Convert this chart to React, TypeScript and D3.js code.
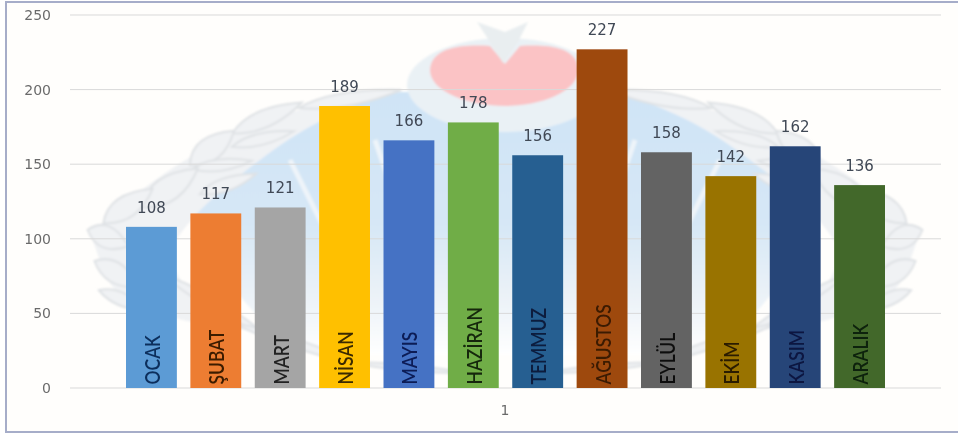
import React from "react";
import * as d3 from "d3";

const months = ["OCAK", "ŞUBAT", "MART", "NİSAN", "MAYIS", "HAZİRAN", "TEMMUZ", "AĞUSTOS", "EYLÜL", "EKİM", "KASIM", "ARALIK"];
const values = [108, 117, 121, 189, 166, 178, 156, 227, 158, 142, 162, 136];
const barColors = ["#5b9bd5", "#ed7d31", "#a5a5a5", "#ffc000", "#4472c4", "#70ad47", "#255e91", "#9e480e", "#636363", "#997300", "#264478", "#43682b"];
const labelColors = ["#0c2f5c", "#3a1a00", "#222222", "#3a2a00", "#0a1a55", "#13280a", "#0c1c3c", "#3a1a05", "#111111", "#2a1c00", "#0a1540", "#0c2008"];
const yTicks = [0, 50, 100, 150, 200, 250];
const xCategory = "1";

const W = 958;
const H = 437;
const y = d3.scaleLinear().domain([0, 250]).range([388, 15]);
const x = d3.scaleBand<string>().domain(months).range([126, 885]).paddingInner(0.21).paddingOuter(0);

const leaf = (cx: number, cy: number, rot: number, rx: number, ry: number, k: number) => (
  <path
    key={k}
    transform={`translate(${cx},${cy}) rotate(${rot})`}
    d={`M${-rx},0 Q${-rx * 0.3},${-ry * 1.5} ${rx},0 Q${-rx * 0.1},${ry * 1.4} ${-rx},0Z`}
    fill="#f0f2f4"
    stroke="#dfe2e5"
    strokeWidth={2}
  />
);

function Wing() {
  const leaves: [number, number, number, number, number][] = [
    [350, 99, -10, 52, 9],
    [267, 118, -24, 38, 12],
    [263, 139, -14, 32, 8],
    [212, 148, -38, 28, 16],
    [222, 165, -8, 30, 8],
    [228, 184, -20, 30, 9],
    [170, 188, -35, 34, 17],
    [128, 206, -35, 30, 15],
    [108, 238, 22, 22, 15],
    [117, 274, 30, 26, 14],
    [123, 300, 22, 26, 9],
    [215, 305, 30, 60, 7],
    [300, 345, 18, 70, 6],
    [410, 368, 5, 60, 4],
  ];
  return (
    <g>
      <path
        d="M92,238 C130,190 240,105 400,90 C330,112 300,130 260,160 C220,190 190,215 170,250 C175,285 200,310 250,330 C190,325 120,310 105,275Z"
        fill="#f0f2f4"
      />
      {leaves.map((l, i) => leaf(l[0], l[1], l[2], l[3], l[4], i))}
    </g>
  );
}

function Emblem() {
  const cx = 505;
  return (
    <g filter="url(#soft)">
      <path
        d="M190,212 C225,165 290,112 400,92 L610,92 C720,112 785,165 820,212 C790,270 760,330 690,355 L320,355 C250,330 220,270 190,212Z"
        fill="url(#dome)"
      />
      <path d="M290,160 L340,260 M375,140 L430,300 M720,160 L670,260 M635,140 L580,300" stroke="#eef4f9" strokeWidth={5} fill="none" />
      <ellipse cx={cx} cy={85} rx={98} ry={47} fill="#eaf1f5" />
      <Wing />
      <g transform={`translate(${2 * cx},0) scale(-1,1)`}>
        <Wing />
      </g>
      <path d="M430,70 C432,44 470,45 490,46 L505,64 L520,46 C540,45 578,44 578,70 C578,92 540,106 505,106 C470,106 430,92 430,70Z" fill="#fbc3c5" />
      <path d="M477,22 L505,32 L528,22 L518,42 L503,63 L490,42Z" fill="#e9eef0" />
    </g>
  );
}

export default function App() {
  return (
    <svg
      width={W}
      height={H}
      viewBox={`0 0 ${W} ${H}`}
      style={{ position: "absolute", left: 0, top: 0, display: "block", background: "#ffffff" }}
    >
      <defs>
        <linearGradient id="dome" x1="0" y1="0" x2="0" y2="1">
          <stop offset="0" stopColor="#cfe4f6" />
          <stop offset="0.5" stopColor="#d6e7f6" />
          <stop offset="0.8" stopColor="#edf3f8" />
          <stop offset="1" stopColor="#ffffff" />
        </linearGradient>
        <filter id="soft" x="-5%" y="-5%" width="110%" height="110%">
          <feGaussianBlur stdDeviation="1.2" />
        </filter>
        <filter id="fine" x="-2%" y="-2%" width="104%" height="104%">
          <feGaussianBlur stdDeviation="0.4" />
        </filter>
      </defs>
      <rect x={6} y={2} width={960} height={430} fill="#fffefc" stroke="#a6adc9" strokeWidth={2} />
      <Emblem />
      <g filter="url(#fine)">
        {yTicks.map((t) => (
          <g key={t}>
            <line x1={70} x2={941} y1={y(t)} y2={y(t)} stroke="#d9d9d9" strokeWidth={1} />
            <text x={51} y={y(t) + 5} textAnchor="end" fontFamily="DejaVu Sans" fontSize={14} fill="#6b6b6b">
              {t}
            </text>
          </g>
        ))}
        {months.map((m, i) => {
          const bx = x(m)!;
          const cx = bx + x.bandwidth() / 2;
          return (
            <g key={m}>
              <rect x={bx} y={y(values[i])} width={x.bandwidth()} height={y(0) - y(values[i])} fill={barColors[i]} />
              <text x={cx} y={y(values[i]) - 14} textAnchor="middle" fontFamily="DejaVu Sans" fontWeight={500} fontSize={15} fill="#404855">
                {values[i]}
              </text>
              <text
                transform={`translate(${cx + 8.5},384.5) rotate(-90) scale(0.97,1.12)`}
                fontFamily="Lato"
                fontWeight={600}
                fontSize={18}
                fill={labelColors[i]}
              >
                {m}
              </text>
            </g>
          );
        })}
        <text x={505} y={415} textAnchor="middle" fontFamily="DejaVu Sans" fontSize={14} fill="#6b6b6b">
          {xCategory}
        </text>
      </g>
    </svg>
  );
}
